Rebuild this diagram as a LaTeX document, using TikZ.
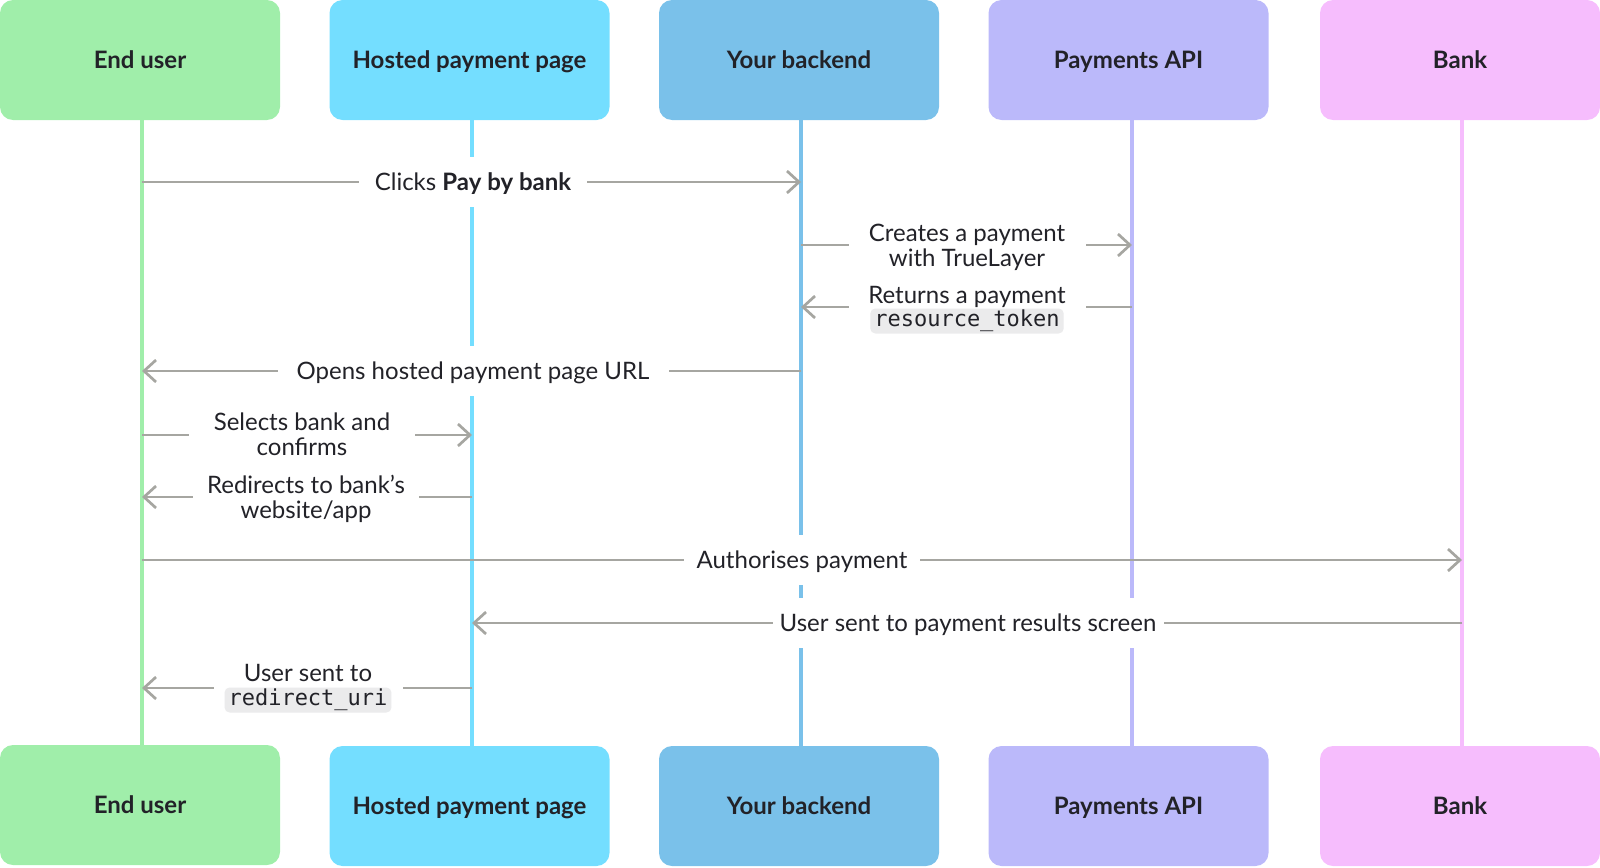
\documentclass[tikz,border=0pt]{standalone}
\usepackage{fontspec}
\setmainfont{Lato}
\setmonofont{DejaVu Sans Mono}
\usetikzlibrary{arrows.meta}
\definecolor{cEU}{HTML}{A0EEAA}
\definecolor{cHP}{HTML}{74DEFF}
\definecolor{cYB}{HTML}{7AC1EA}
\definecolor{cPA}{HTML}{BBB9FA}
\definecolor{cBK}{HTML}{F6BDFD}
\definecolor{arr}{HTML}{A6A6A1}
\definecolor{ink}{HTML}{222228}
\definecolor{codebg}{HTML}{EBEBEC}
\tikzset{
  actor/.style={rounded corners=13pt, minimum width=280pt, minimum height=120pt, inner sep=0pt,
    text height=17pt, text depth=0pt,
    font=\bfseries\fontsize{24}{26}\selectfont, text=ink},
  life/.style={line width=4.5pt},
  msg/.style={draw=arr, line width=2.7pt, -{Straight Barb[length=12pt,width=22pt]}},
  gap/.style={fill=white, inner sep=0pt, minimum height=50pt},
  lbl/.style={inner sep=0pt, align=center, font=\fontsize{24}{25}\selectfont, text=ink},
  one/.style={text height=17pt, text depth=0pt},
  codebox/.style={fill=codebg, rounded corners=5pt, inner xsep=4pt, inner ysep=2pt,
    text height=16pt, text depth=5pt, font=\ttfamily\fontsize{22}{25}\selectfont, text=ink}
}
\begin{document}
\begin{tikzpicture}[x=1pt,y=-1pt]
\useasboundingbox (0,0) rectangle (1600,867);
% actors
\node[actor, fill=cEU] (euT) at (140,60) {End user};
\node[actor, fill=cHP] (hpT) at (469.5,60) {Hosted payment page};
\node[actor, fill=cYB] (ybT) at (799,60) {Your backend};
\node[actor, fill=cPA] (paT) at (1128.5,60) {Payments API};
\node[actor, fill=cBK] (bkT) at (1460,60) {Bank};
\node[actor, fill=cEU] (euB) at (140,805) {End user};
\node[actor, fill=cHP] (hpB) at (469.5,806) {Hosted payment page};
\node[actor, fill=cYB] (ybB) at (799,806) {Your backend};
\node[actor, fill=cPA] (paB) at (1128.5,806) {Payments API};
\node[actor, fill=cBK] (bkB) at (1460,806) {Bank};
% lifeline x positions
\coordinate (euL) at (142,0);
\coordinate (hpL) at (472,0);
\coordinate (ybL) at (801,0);
\coordinate (paL) at (1132,0);
\coordinate (bkL) at (1462,0);
\draw[life, draw=cEU] (euL |- euT.south) -- (euL |- euB.north);
\draw[life, draw=cHP] (hpL |- hpT.south) -- (hpL |- hpB.north);
\draw[life, draw=cYB] (ybL |- ybT.south) -- (ybL |- ybB.north);
\draw[life, draw=cPA] (paL |- paT.south) -- (paL |- paB.north);
\draw[life, draw=cBK] (bkL |- bkT.south) -- (bkL |- bkB.north);
% message rows
\coordinate (m1) at (0,182);
\coordinate (m2) at (0,245);
\coordinate (m3) at (0,307);
\coordinate (m4) at (0,371);
\coordinate (m5) at (0,435);
\coordinate (m6) at (0,497);
\coordinate (m7) at (0,560);
\coordinate (m8) at (0,623);
\coordinate (m9) at (0,688);
\draw[msg] (euL |- m1) -- (ybL |- m1);
\draw[msg] (ybL |- m2) -- (paL |- m2);
\draw[msg] (paL |- m3) -- (ybL |- m3);
\draw[msg] (ybL |- m4) -- (euL |- m4);
\draw[msg] (euL |- m5) -- (hpL |- m5);
\draw[msg] (hpL |- m6) -- (euL |- m6);
\draw[msg] (euL |- m7) -- (bkL |- m7);
\draw[msg] (bkL |- m8) -- (hpL |- m8);
\draw[msg] (hpL |- m9) -- (euL |- m9);
% gaps
\node[gap, minimum width=228pt] (g1) at (473,182) {};
\node[gap, minimum width=237pt] (g2) at (967,245) {};
\node[gap, minimum width=237pt] (g3) at (967,307) {};
\node[gap, minimum width=391pt] (g4) at (473,371) {};
\node[gap, minimum width=226pt] (g5) at (302,435) {};
\node[gap, minimum width=226pt] (g6) at (306,497) {};
\node[gap, minimum width=236pt] (g7) at (802,560) {};
\node[gap, minimum width=391pt] (g8) at (968,623) {};
\node[gap, minimum width=189pt] (g9) at (308,688) {};
% labels
\node[lbl, one] (t1) at (g1) {Clicks \textbf{Pay by bank}};
\node[lbl] (t2) at (967,247) {Creates a payment\\with TrueLayer};
\node[lbl, one] (t3) at (967,295) {Returns a payment};
\node[codebox] (c3) at (967,321) {resource\_token};
\node[lbl, one] (t4) at (g4) {Opens hosted payment page URL};
\node[lbl] (t5) at (302,434) {Selects bank and\\confirms};
\node[lbl] (t6) at (306,499) {Redirects to bank’s\\website/app};
\node[lbl, one] (t7) at (g7) {Authorises payment};
\node[lbl, one] (t8) at (g8) {User sent to payment results screen};
\node[lbl, one] (t9) at (308,673) {User sent to};
\node[codebox] (c9) at (308,700) {redirect\_uri};
\end{tikzpicture}
\end{document}
